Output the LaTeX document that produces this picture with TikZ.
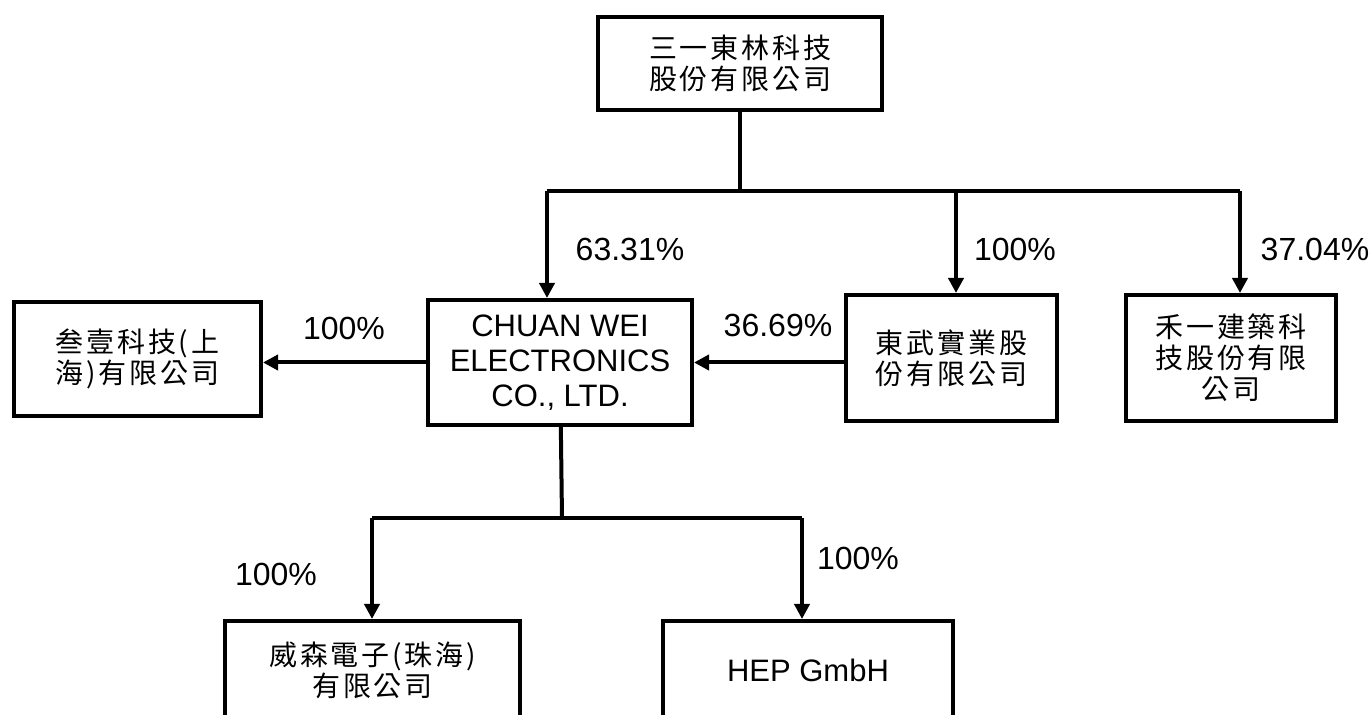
\documentclass[tikz,border=0pt]{standalone}
\usepackage{fontspec}
\setmainfont{Liberation Sans}
\newfontfamily\cjk[LetterSpace=10]{Noto Sans CJK TC}
\usetikzlibrary{arrows.meta}

\begin{document}
\begin{tikzpicture}[x=0.5pt, y=-0.5pt,
    orgbox/.style={draw, rectangle, line width=2pt, align=center, inner sep=0pt},
    zh/.style={font=\cjk\fontsize{14}{15.5}\selectfont},
    en/.style={font=\fontsize{15.5}{17.5}\selectfont},
    pct/.style={font=\fontsize{16}{18}\selectfont},
    conn/.style={line width=2pt},
    arr/.style={line width=2pt, -{Triangle[width=7.5pt, length=7.5pt]}}]
    \useasboundingbox (0,0) rectangle (1372,715);
    \clip (0,0) rectangle (1372,715);

    \node (top) [orgbox, zh, minimum width=142pt, minimum height=46.5pt] at (740,63.5) {三一東林科技\\股份有限公司};
    \node (sanyi) [orgbox, zh, minimum width=123.5pt, minimum height=57pt] at (137.5,359) {叁壹科技(上\\海)有限公司};
    \node (cw) [orgbox, en, minimum width=132pt, minimum height=62.5pt] at (560,362.5) {CHUAN WEI\\ELECTRONICS\\CO., LTD.};
    \node (dongwu) [orgbox, zh, minimum width=105.5pt, minimum height=63pt] at (951.5,358) {東武實業股\\份有限公司};
    \node (heyi) [orgbox, zh, minimum width=105pt, minimum height=63pt] at (1231,358) {禾一建築科\\技股份有限\\公司};
    \node (weisen) [orgbox, zh, minimum width=147.5pt, minimum height=49pt] at (372.5,670) {威森電子(珠海)\\有限公司};
    \node (hep) [orgbox, en, minimum width=145pt, minimum height=49pt] at (808,670) {HEP GmbH};

    % shares
    \node (p1) [pct] at (630,249) {63.31\%};
    \node (p2) [pct] at (1015,249) {100\%};
    \node (p3) [pct] at (1315,249) {37.04\%};
    \node (p4) [pct] at (344,328) {100\%};
    \node (p5) [pct] at (778,325) {36.69\%};
    \node (p6) [pct] at (276,574) {100\%};
    \node (p7) [pct] at (858,558) {100\%};

    \coordinate (topbar) at (740,191);
    \coordinate (barA) at (547,191);
    \coordinate (barB) at (956,191);
    \coordinate (barC) at (1240,191);
    \coordinate (lowbar) at (562,518);
    \coordinate (lowA) at (372,518);
    \coordinate (lowB) at (802,518);

    \draw[conn] (top) -- (topbar);
    \draw[conn] (barA) -- (barC);
    \draw[arr] (barA) -- (barA |- cw.north);
    \draw[arr] (barB) -- (barB |- dongwu.north);
    \draw[arr] (barC) -- (barC |- heyi.north);

    \draw[arr] (cw.west) -- (cw.west -| sanyi.east);
    \draw[arr] (cw.east -| dongwu.west) -- (cw.east);

    \draw[conn] (cw) -- (lowbar);
    \draw[conn] (lowA) -- (lowB);
    \draw[arr] (lowA) -- (lowA |- weisen.north);
    \draw[arr] (lowB) -- (lowB |- hep.north);
\end{tikzpicture}
\end{document}
